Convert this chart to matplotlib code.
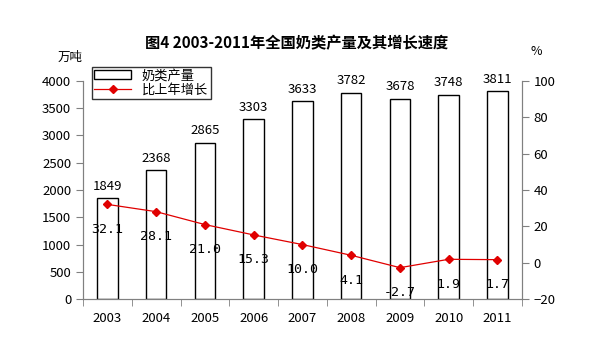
import matplotlib
matplotlib.use('Agg')
import numpy as np
import matplotlib.pyplot as plt

plt.rcParams['font.family'] = ['Noto Sans CJK SC', 'DejaVu Sans']

years = ['2003', '2004', '2005', '2006', '2007', '2008', '2009', '2010', '2011']
output = [1849, 2368, 2865, 3303, 3633, 3782, 3678, 3748, 3811]
growth = [32.1, 28.1, 21.0, 15.3, 10.0, 4.1, -2.7, 1.9, 1.7]

ind = np.arange(len(years))
width = 0.42

fig = plt.figure(figsize=(5.93, 3.63), dpi=100)
ax = fig.add_axes([0.140, 0.176, 0.740, 0.601])
ax2 = ax.twinx()

bars = ax.bar(ind, output, width, color='white', edgecolor='black', linewidth=1.0, label='奶类产量')
line, = ax2.plot(ind, growth, color='#e00000', linewidth=0.9, marker='D', markersize=4.5,
                 markerfacecolor='#e00000', markeredgecolor='#e00000', label='比上年增长')

# data labels
for x, v in zip(ind, output):
    ax.text(x, v + 100, '%d' % v, ha='center', va='bottom', fontsize=9.5)
for x, v in zip(ind, growth):
    ax2.annotate('%.1f' % v, (x, v), xytext=(0, -18), textcoords='offset points',
                 ha='center', va='center', fontsize=9.5, family='DejaVu Sans Mono')

ax.set_xlim(-0.5, len(years) - 0.5)
ax.set_ylim(0, 4000)
ax.set_yticks(range(0, 4001, 500))
ax2.set_ylim(-20, 100)
ax2.set_yticks(range(-20, 101, 20))

ax.set_xticks(ind)
ax.set_xticklabels(years, fontsize=9.5)
ax.set_xticks(np.arange(-0.5, len(years), 1), minor=True)
ax.tick_params(axis='x', which='major', length=0, pad=9)
ax.tick_params(axis='x', which='minor', length=5, color='gray', direction='out')
ax.tick_params(axis='y', labelsize=9.5, length=5, color='gray', direction='out')
ax2.tick_params(axis='y', labelsize=9.5, length=5, color='gray', direction='out')

for a in (ax, ax2):
    a.spines['top'].set_visible(False)
    for s in ('left', 'right', 'bottom'):
        a.spines[s].set_color('gray')

fig.text(0.5, 0.88, '图4 2003-2011年全国奶类产量及其增长速度', ha='center', va='center',
         fontsize=11, fontweight='bold')
fig.text(0.118, 0.843, '万吨', ha='center', va='center', fontsize=9)
fig.text(0.905, 0.857, '%', ha='center', va='center', fontsize=9)

leg = ax.legend([bars, line], ['奶类产量', '比上年增长'], loc='upper left',
                bbox_to_anchor=(0.02, 1.065), fontsize=9.5, frameon=True, fancybox=False,
                borderpad=0.2, labelspacing=0.1, handlelength=2.8, handleheight=0.7,
                borderaxespad=0.0)
leg.get_frame().set_edgecolor('black')
leg.get_frame().set_linewidth(1.0)
leg.set_zorder(10)

fig.savefig('out.png', dpi=100)
